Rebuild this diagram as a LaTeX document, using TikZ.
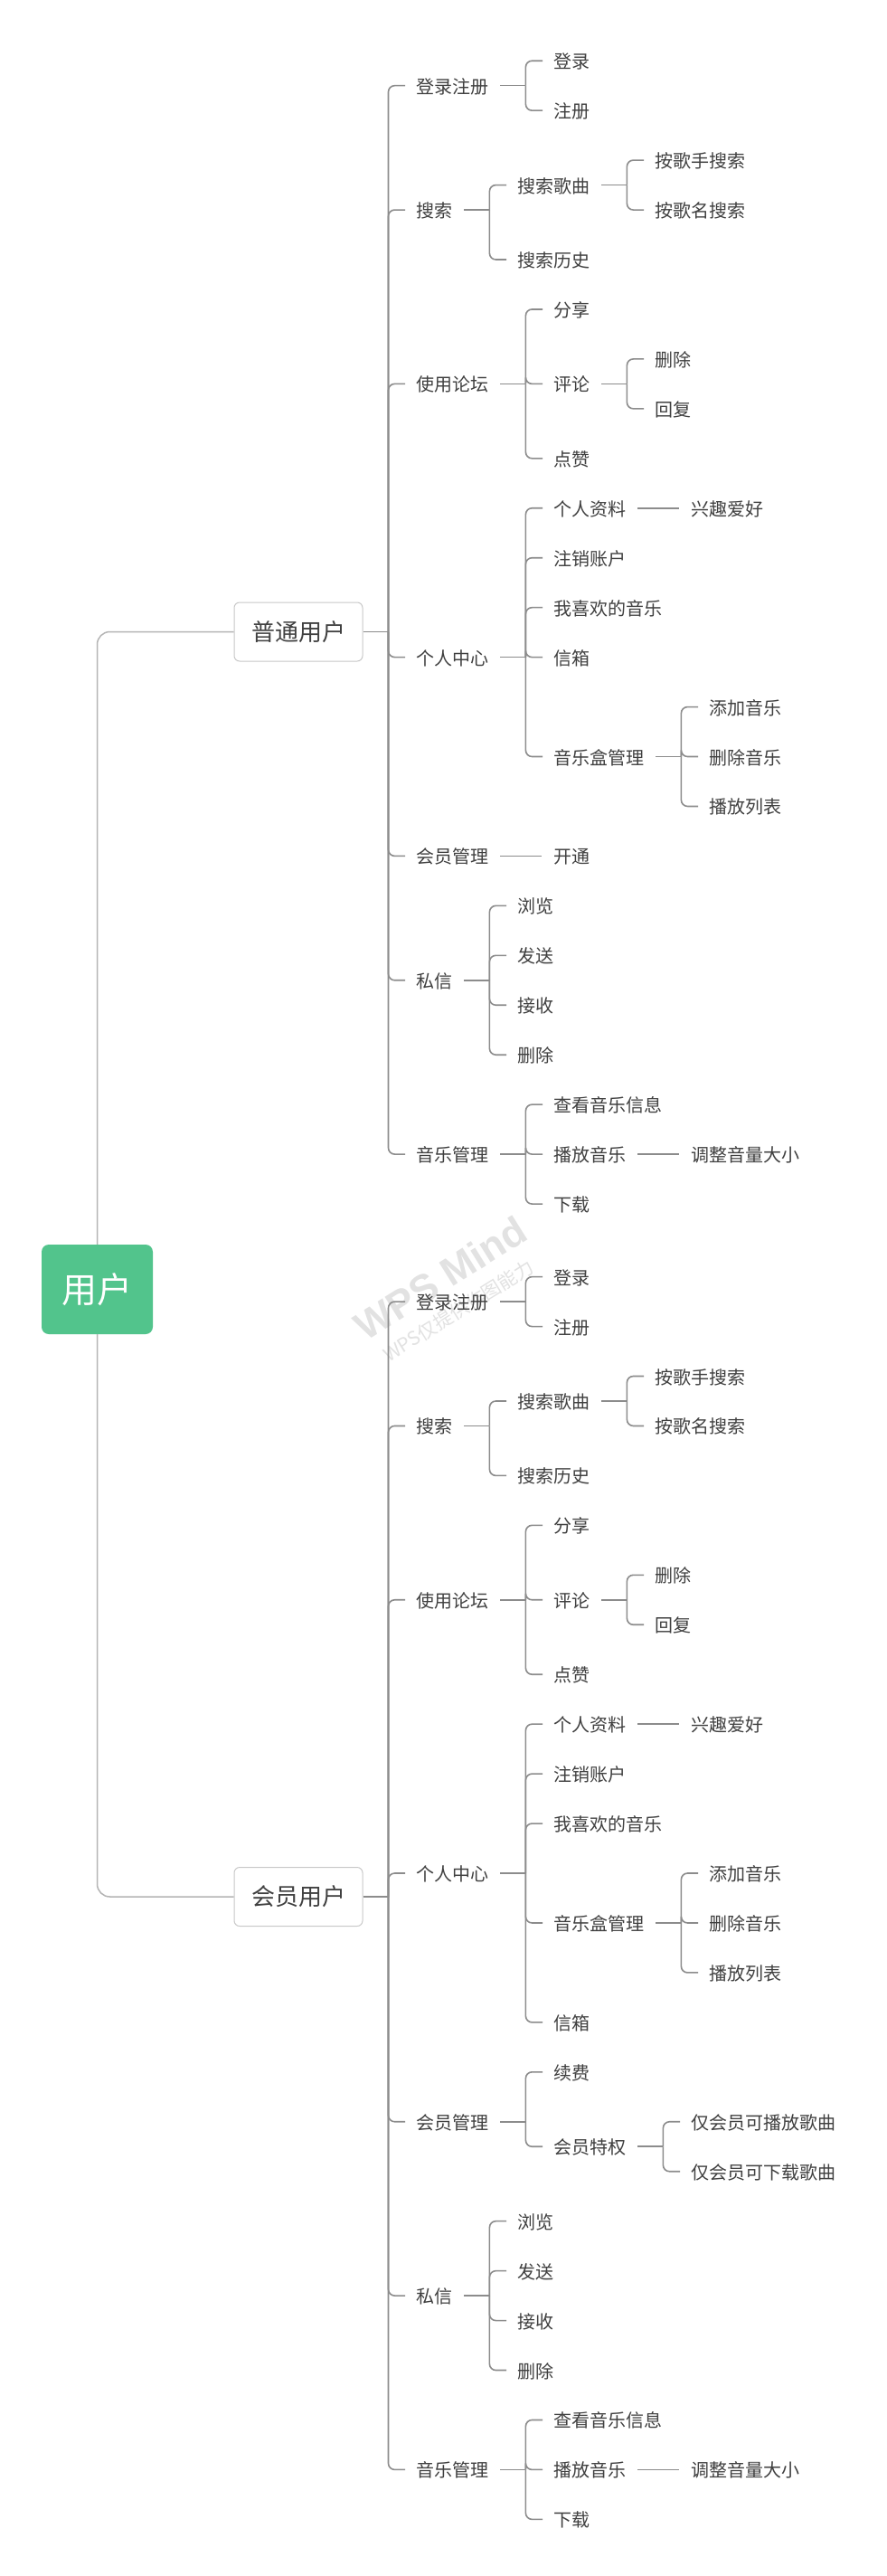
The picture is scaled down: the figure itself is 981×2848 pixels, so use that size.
\documentclass[tikz,border=0pt]{standalone}
\usepackage{fontspec}
\newfontfamily\cjk{Noto Sans CJK SC}
\newfontfamily\wmfont{Liberation Sans}
\definecolor{rootgreen}{HTML}{52C48C}
\definecolor{txtc}{HTML}{404040}
\definecolor{connc}{HTML}{8C8C8C}
\definecolor{rootlc}{HTML}{B4B4B4}
\definecolor{boxc}{HTML}{C8C8C8}
\definecolor{wmc}{HTML}{E2E2E2}
\newcommand\ra[1]{67.2+54.95*#1}
\newcommand\rb[1]{1411.6+54.95*#1}
\newcommand\kids[2]{%
  \foreach \c in {#2} {\draw[conn] ([xshift=41pt]#1.east) |- ([xshift=-12pt]\c.west);}
  \draw[conn] ([xshift=13pt]#1.east) -- ([xshift=41pt]#1.east);}
\newcommand\onekid[2]{\draw[conn] ([xshift=13pt]#1.east) -- ([xshift=-13pt]#2.west);}
\tikzset{
  lbl/.style={anchor=west, inner sep=0pt, text height=17pt, text depth=0pt,
    font=\cjk\fontsize{20}{24}\selectfont, text=txtc},
  conn/.style={draw=connc, line width=1.6pt, rounded corners=7pt},
  rootline/.style={draw=rootlc, line width=1.5pt, rounded corners=14pt},
  userbox/.style={draw=boxc, line width=1pt, fill=white, rounded corners=6pt,
    minimum width=142pt, minimum height=65pt, inner sep=0pt,
    font=\cjk\fontsize{26}{30}\selectfont, text=txtc},
  rootbox/.style={fill=rootgreen, rounded corners=8pt, minimum width=123pt,
    minimum height=99pt, inner sep=0pt, font=\cjk\fontsize{39}{44}\selectfont, text=white}
}
\begin{document}
\begin{tikzpicture}[x=1pt,y=-1pt]
\fill[white] (0,0) rectangle (981,2848);
\useasboundingbox (0,0) rectangle (981,2848);

% watermark
\node[text=wmc, rotate=32, inner sep=0pt, font=\wmfont\bfseries\fontsize{44}{48}\selectfont] (wm1) at (487,1413) {WPS Mind};
\node[text=wmc, rotate=32, inner sep=0pt, font=\cjk\fontsize{21}{24}\selectfont] (wm2) at (507,1449) {WPS仅提供作图能力};

% root and users
\node[rootbox] (root) at (107.5,1425.5) {用户};
\node[userbox] (pu) at (330,698.5) {普通用户};
\node[userbox] (vu) at (330,2097) {会员用户};
\draw[rootline] (root.north) |- (pu.west);
\draw[rootline] (root.south) |- (vu.west);

% ---------- 普通用户 ----------
\node[lbl] (a1) at (460,\ra{0.5}) {登录注册};
\node[lbl] (a11) at (612,\ra{0}) {登录};
\node[lbl] (a12) at (612,\ra{1}) {注册};
\node[lbl] (a2) at (460,\ra{3}) {搜索};
\node[lbl] (a21) at (572,\ra{2.5}) {搜索歌曲};
\node[lbl] (a211) at (724,\ra{2}) {按歌手搜索};
\node[lbl] (a212) at (724,\ra{3}) {按歌名搜索};
\node[lbl] (a22) at (572,\ra{4}) {搜索历史};
\node[lbl] (a3) at (460,\ra{6.5}) {使用论坛};
\node[lbl] (a31) at (612,\ra{5}) {分享};
\node[lbl] (a32) at (612,\ra{6.5}) {评论};
\node[lbl] (a321) at (724,\ra{6}) {删除};
\node[lbl] (a322) at (724,\ra{7}) {回复};
\node[lbl] (a33) at (612,\ra{8}) {点赞};
\node[lbl] (a4) at (460,\ra{12}) {个人中心};
\node[lbl] (a41) at (612,\ra{9}) {个人资料};
\node[lbl] (a411) at (764,\ra{9}) {兴趣爱好};
\node[lbl] (a42) at (612,\ra{10}) {注销账户};
\node[lbl] (a43) at (612,\ra{11}) {我喜欢的音乐};
\node[lbl] (a44) at (612,\ra{12}) {信箱};
\node[lbl] (a45) at (612,\ra{14}) {音乐盒管理};
\node[lbl] (a451) at (784,\ra{13}) {添加音乐};
\node[lbl] (a452) at (784,\ra{14}) {删除音乐};
\node[lbl] (a453) at (784,\ra{15}) {播放列表};
\node[lbl] (a5) at (460,\ra{16}) {会员管理};
\node[lbl] (a51) at (612,\ra{16}) {开通};
\node[lbl] (a6) at (460,\ra{18.5}) {私信};
\node[lbl] (a61) at (572,\ra{17}) {浏览};
\node[lbl] (a62) at (572,\ra{18}) {发送};
\node[lbl] (a63) at (572,\ra{19}) {接收};
\node[lbl] (a64) at (572,\ra{20}) {删除};
\node[lbl] (a7) at (460,\ra{22}) {音乐管理};
\node[lbl] (a71) at (612,\ra{21}) {查看音乐信息};
\node[lbl] (a72) at (612,\ra{22}) {播放音乐};
\node[lbl] (a721) at (764,\ra{22}) {调整音量大小};
\node[lbl] (a73) at (612,\ra{23}) {下载};

\foreach \c in {a1,a2,a3,a4,a5,a6,a7} {\draw[conn] ([xshift=28pt]pu.east) |- ([xshift=-12pt]\c.west);}
\draw[conn] (pu.east) -- ([xshift=28pt]pu.east);
\kids{a1}{a11,a12}
\kids{a2}{a21,a22}
\kids{a21}{a211,a212}
\kids{a3}{a31,a32,a33}
\kids{a32}{a321,a322}
\kids{a4}{a41,a42,a43,a44,a45}
\onekid{a41}{a411}
\kids{a45}{a451,a452,a453}
\onekid{a5}{a51}
\kids{a6}{a61,a62,a63,a64}
\kids{a7}{a71,a72,a73}
\onekid{a72}{a721}

% ---------- 会员用户 ----------
\node[lbl] (b1) at (460,\rb{0.5}) {登录注册};
\node[lbl] (b11) at (612,\rb{0}) {登录};
\node[lbl] (b12) at (612,\rb{1}) {注册};
\node[lbl] (b2) at (460,\rb{3}) {搜索};
\node[lbl] (b21) at (572,\rb{2.5}) {搜索歌曲};
\node[lbl] (b211) at (724,\rb{2}) {按歌手搜索};
\node[lbl] (b212) at (724,\rb{3}) {按歌名搜索};
\node[lbl] (b22) at (572,\rb{4}) {搜索历史};
\node[lbl] (b3) at (460,\rb{6.5}) {使用论坛};
\node[lbl] (b31) at (612,\rb{5}) {分享};
\node[lbl] (b32) at (612,\rb{6.5}) {评论};
\node[lbl] (b321) at (724,\rb{6}) {删除};
\node[lbl] (b322) at (724,\rb{7}) {回复};
\node[lbl] (b33) at (612,\rb{8}) {点赞};
\node[lbl] (b4) at (460,\rb{12}) {个人中心};
\node[lbl] (b41) at (612,\rb{9}) {个人资料};
\node[lbl] (b411) at (764,\rb{9}) {兴趣爱好};
\node[lbl] (b42) at (612,\rb{10}) {注销账户};
\node[lbl] (b43) at (612,\rb{11}) {我喜欢的音乐};
\node[lbl] (b44) at (612,\rb{13}) {音乐盒管理};
\node[lbl] (b441) at (784,\rb{12}) {添加音乐};
\node[lbl] (b442) at (784,\rb{13}) {删除音乐};
\node[lbl] (b443) at (784,\rb{14}) {播放列表};
\node[lbl] (b45) at (612,\rb{15}) {信箱};
\node[lbl] (b5) at (460,\rb{17}) {会员管理};
\node[lbl] (b51) at (612,\rb{16}) {续费};
\node[lbl] (b52) at (612,\rb{17.5}) {会员特权};
\node[lbl] (b521) at (764,\rb{17}) {仅会员可播放歌曲};
\node[lbl] (b522) at (764,\rb{18}) {仅会员可下载歌曲};
\node[lbl] (b6) at (460,\rb{20.5}) {私信};
\node[lbl] (b61) at (572,\rb{19}) {浏览};
\node[lbl] (b62) at (572,\rb{20}) {发送};
\node[lbl] (b63) at (572,\rb{21}) {接收};
\node[lbl] (b64) at (572,\rb{22}) {删除};
\node[lbl] (b7) at (460,\rb{24}) {音乐管理};
\node[lbl] (b71) at (612,\rb{23}) {查看音乐信息};
\node[lbl] (b72) at (612,\rb{24}) {播放音乐};
\node[lbl] (b721) at (764,\rb{24}) {调整音量大小};
\node[lbl] (b73) at (612,\rb{25}) {下载};

\foreach \c in {b1,b2,b3,b4,b5,b6,b7} {\draw[conn] ([xshift=28pt]vu.east) |- ([xshift=-12pt]\c.west);}
\draw[conn] (vu.east) -- ([xshift=28pt]vu.east);
\kids{b1}{b11,b12}
\kids{b2}{b21,b22}
\kids{b21}{b211,b212}
\kids{b3}{b31,b32,b33}
\kids{b32}{b321,b322}
\kids{b4}{b41,b42,b43,b44,b45}
\onekid{b41}{b411}
\kids{b44}{b441,b442,b443}
\kids{b5}{b51,b52}
\kids{b52}{b521,b522}
\kids{b6}{b61,b62,b63,b64}
\kids{b7}{b71,b72,b73}
\onekid{b72}{b721}
\end{tikzpicture}
\end{document}
